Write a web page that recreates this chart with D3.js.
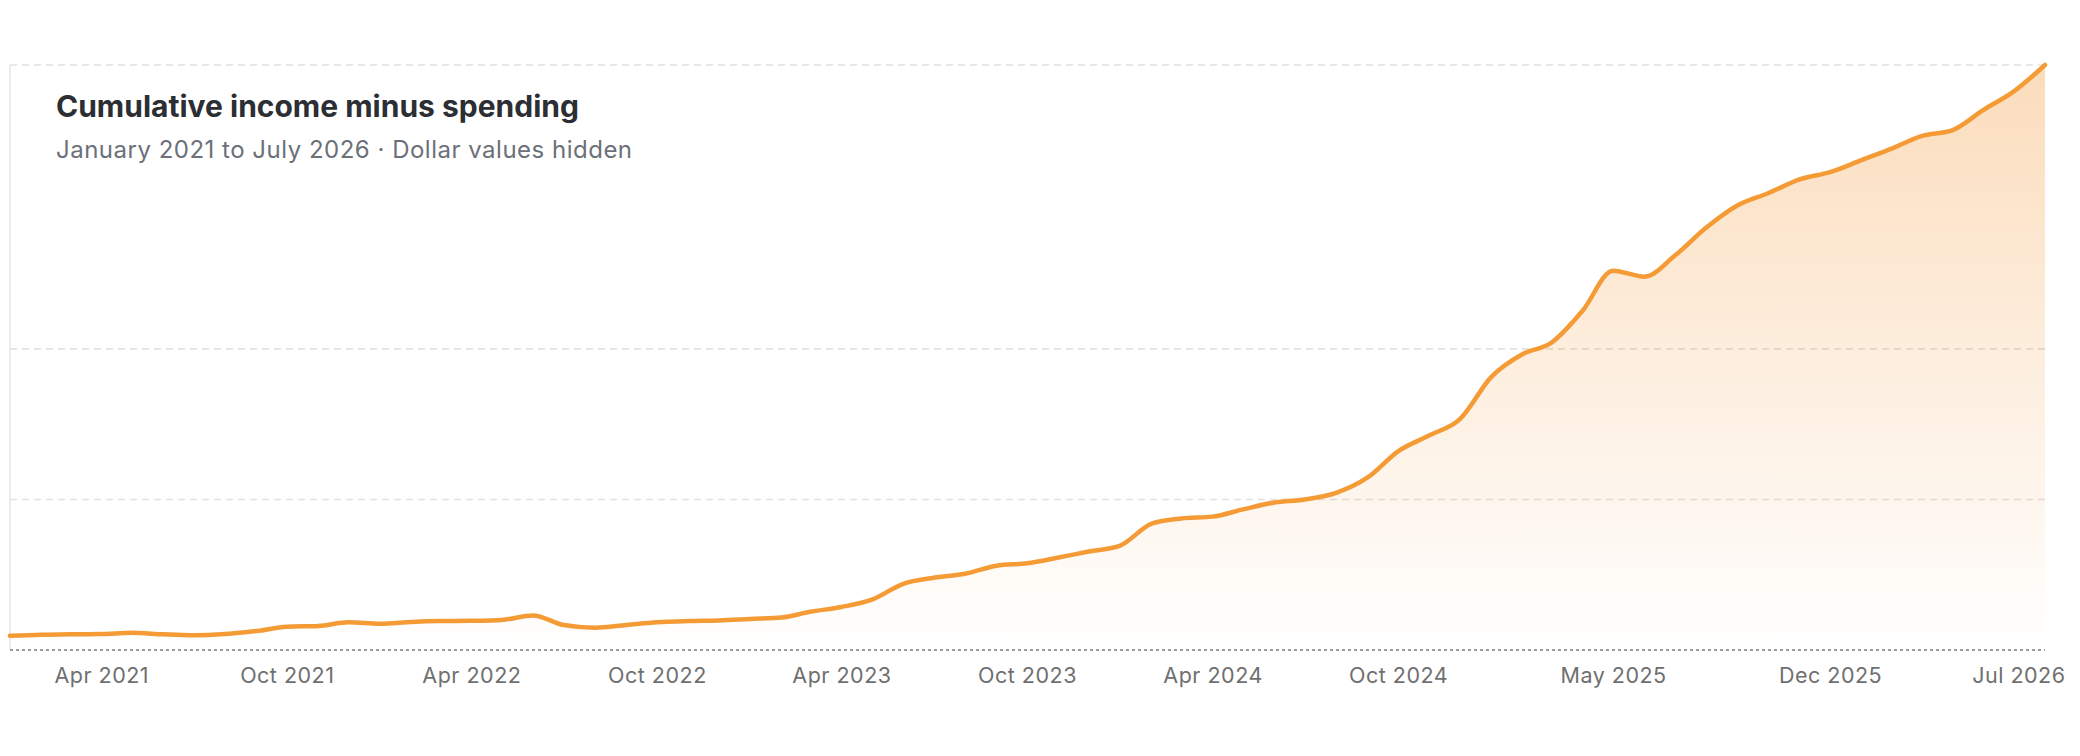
<!DOCTYPE html>
<html>
<head>
<meta charset="utf-8">
<script src="https://cdn.jsdelivr.net/npm/d3@7"></script>
<style>
  html, body { margin: 0; padding: 0; background: #ffffff; }
  svg { display: block; font-family: Inter, "Noto Sans", sans-serif; }
</style>
</head>
<body>
<script>
const w = 2080;
const h = 756;
const margin = { top: 65, right: 35, bottom: 106, left: 10 };

// Data: one value per month, Jan 2021 .. Jul 2026 (units arbitrary, dollar values hidden)

const startMonth = new Date(2021, 0, 1);
const endMonth = new Date(2026, 6, 1);

const values = [
  4.7, 5.1, 5.2, 5.3, 5.7, 5.2, 4.9, 5.3, 6.3, 7.7, 8.0, 9.2,
  8.7, 9.3, 9.6, 9.7, 10.0, 11.5, 8.3, 7.4, 8.3, 9.2, 9.6, 9.8,
  10.3, 10.8, 12.7, 14.3, 16.7, 22.0, 24.0, 25.3, 28.0, 28.8, 30.7, 32.7,
  34.7, 42.0, 43.7, 44.3, 46.7, 49.0, 50.0, 52.2, 57.3, 66.0, 71.3, 76.7,
  90.7, 98.3, 102.0, 112.7, 126.0, 124.0, 131.0, 140.3, 147.7, 151.7, 156.3, 158.7,
  162.7, 166.7, 170.7, 172.7, 179.3, 185.7, 194.3
];

const tickLabels = [
  "Apr 2021", "Oct 2021", "Apr 2022", "Oct 2022", "Apr 2023", "Oct 2023",
  "Apr 2024", "Oct 2024", "May 2025", "Dec 2025", "Jul 2026"
];

// hidden-value gridlines (no labels shown)
const gridValues = [50, 100];

const title = "Cumulative income minus spending";
const subtitle = "January 2021 to July 2026 · Dollar values hidden";

const months = d3.timeMonth.range(startMonth, d3.timeMonth.offset(endMonth, 1));
const data = months.map((d, i) => ({ date: d, value: values[i] }));
const parseLabel = d3.timeParse("%b %Y");
const tickDates = tickLabels.map(parseLabel);

// Scales

const x = d3.scaleTime()
  .domain([startMonth, endMonth])
  .range([margin.left, w - margin.right]);

const y = d3.scaleLinear()
  .domain([0, d3.max(values)])
  .range([h - margin.bottom, margin.top]);

// SVG

const svg = d3.select("body").append("svg").attr("width", w).attr("height", h);

const defs = svg.append("defs");
const grad = defs.append("linearGradient")
  .attr("id", "area-fill")
  .attr("gradientUnits", "userSpaceOnUse")
  .attr("x1", 0).attr("x2", 0)
  .attr("y1", y.range()[1]).attr("y2", y.range()[0]);
grad.append("stop").attr("offset", "0%").attr("stop-color", "#f39a3a").attr("stop-opacity", 0.34);
grad.append("stop").attr("offset", "100%").attr("stop-color", "#f39a3a").attr("stop-opacity", 0.0);

// Grid

svg.append("g")
  .selectAll("line")
  .data(gridValues.concat([y.domain()[1]]))
  .join("line")
  .attr("x1", margin.left)
  .attr("x2", w - margin.right)
  .attr("y1", (d) => y(d))
  .attr("y2", (d) => y(d))
  .attr("stroke", "#e1e1e1")
  .attr("stroke-width", 1.6)
  .attr("stroke-dasharray", "7,5");

// left edge
svg.append("line")
  .attr("x1", margin.left)
  .attr("x2", margin.left)
  .attr("y1", y.range()[1])
  .attr("y2", y.range()[0])
  .attr("stroke", "#e6e6e6")
  .attr("stroke-width", 1.5);

// Area + line

const area = d3.area()
  .x((d) => x(d.date))
  .y0(y(0))
  .y1((d) => y(d.value))
  .curve(d3.curveMonotoneX);

const line = d3.line()
  .x((d) => x(d.date))
  .y((d) => y(d.value))
  .curve(d3.curveMonotoneX);

svg.append("path")
  .datum(data)
  .attr("d", area)
  .attr("fill", "url(#area-fill)");

// Baseline

svg.append("line")
  .attr("x1", margin.left)
  .attr("x2", w - margin.right)
  .attr("y1", y(0))
  .attr("y2", y(0))
  .attr("stroke", "#9a9a9a")
  .attr("stroke-width", 1.8)
  .attr("stroke-dasharray", "3,3");

svg.append("path")
  .datum(data)
  .attr("d", line)
  .attr("fill", "none")
  .attr("stroke", "#f49b36")
  .attr("stroke-width", 4.5)
  .attr("stroke-linejoin", "round")
  .attr("stroke-linecap", "round");

// X axis

const xAxis = svg.append("g")
  .attr("transform", `translate(0,${y(0)})`)
  .call(
    d3.axisBottom(x)
      .tickValues(tickDates)
      .tickFormat(d3.timeFormat("%b %Y"))
      .tickSize(0)
      .tickPadding(18)
  );

xAxis.select(".domain").remove();
xAxis.selectAll("text")
  .attr("fill", "#6f6f6f")
  .style("font-size", "21.5px")
  .style("letter-spacing", "0.5px")
  .style("font-family", "Inter, 'Noto Sans', sans-serif");

// keep the last label inside the frame
xAxis.selectAll("text").each(function (d) {
  const len = this.getComputedTextLength();
  const cx = x(d);
  const maxRight = w - 15;
  if (cx + len / 2 > maxRight) {
    d3.select(this).attr("x", maxRight - len / 2 - cx);
  }
});

// Title

svg.append("text")
  .attr("x", 56)
  .attr("y", 117)
  .attr("fill", "#2b2e33")
  .style("font-size", "30px")
  .style("font-weight", 700)
  .text(title);

svg.append("text")
  .attr("x", 56)
  .attr("y", 158)
  .attr("fill", "#6b7079")
  .style("font-size", "24px")
  .style("letter-spacing", "0.5px")
  .text(subtitle);
</script>
</body>
</html>
